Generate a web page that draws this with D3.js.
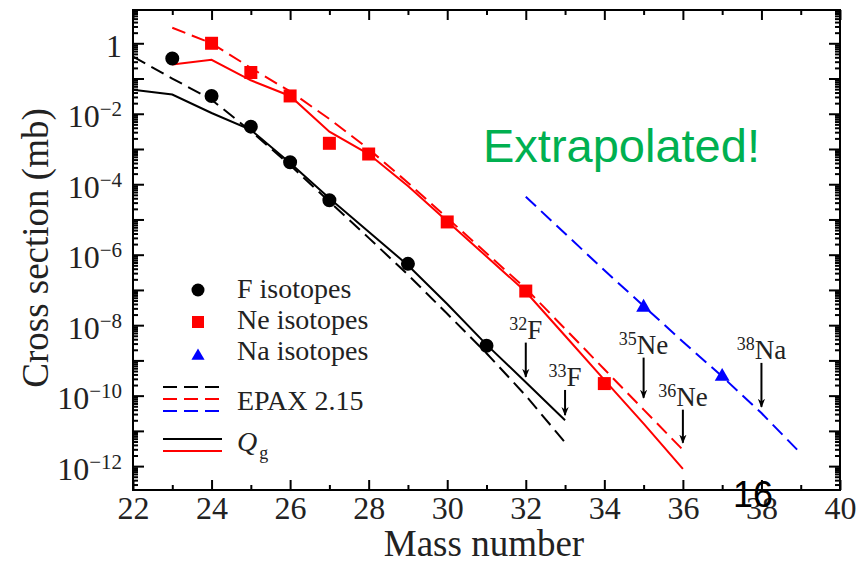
<!DOCTYPE html>
<html lang="en">
<head>
	<meta charset="utf-8">
	<title>Cross sections</title>
	<style type="text/css">
		body { margin: 0; background: #fff; }
		svg text { font-family: "Liberation Serif", "Times New Roman", serif; fill: #222; }
	</style>
</head>
<body>
	<div id="content"></div>

	<script src="https://cdnjs.cloudflare.com/ajax/libs/d3/7.8.5/d3.min.js"></script>
	<script type="text/javascript">
		// measured F / Ne / Na isotopes (mb)
		var massF = [23, 24, 25, 26, 27, 29, 31];
		var sigmaF = [0.37, 0.032, 4.3e-3, 4.2e-4, 3.5e-5, 5.5e-7, 2.6e-9];
		var massNe = [24, 25, 26, 27, 28, 30, 32, 34];
		var sigmaNe = [1.0, 0.148, 0.032, 1.45e-3, 7.2e-4, 8.5e-6, 9.3e-8, 2.2e-10];
		var massNa = [35, 37];
		var sigmaNa = [3.2e-8, 3.5e-10];

		// EPAX 2.15 (dashed)
		var epaxMassF = [22, 23, 24, 25, 26, 27, 28, 29, 30, 31, 32, 33];
		var epaxF = [0.42, 0.10, 0.025, 3.2e-3, 3.5e-4, 3.2e-5, 3.0e-6, 2.7e-7, 2.1e-8, 1.6e-9, 1.0e-10, 4.7e-12];
		var epaxMassNe = [23, 24, 25, 26, 27, 28, 29, 30, 31, 32, 33, 34, 35, 36];
		var epaxNe = [2.75, 1.0, 0.20, 0.043, 7.1e-3, 1.0e-3, 1.1e-4, 1.1e-5, 1.1e-6, 1.1e-7, 7.9e-9, 5.6e-10, 4.0e-11, 2.9e-12];
		var epaxMassNa = [32, 33, 34, 35, 36, 37, 38, 39];
		var epaxNa = [4.4e-5, 4.0e-6, 3.6e-7, 3.5e-8, 3.4e-9, 3.5e-10, 3.2e-11, 2.3e-12];

		// Qg systematics (solid)
		var qgMassF = [22, 23, 24, 25, 26, 27, 28, 29, 30, 31, 32, 33];
		var qgF = [0.048, 0.035, 0.0105, 3.5e-3, 4.0e-4, 4.0e-5, 4.5e-6, 5.0e-7, 4.0e-8, 2.8e-9, 2.4e-10, 2.0e-11];
		var qgMassNe = [23, 24, 25, 26, 27, 28, 29, 30, 31, 32, 33, 34, 35, 36];
		var qgNe = [0.25, 0.34, 0.089, 0.032, 3.1e-3, 7.2e-4, 8.9e-5, 8.9e-6, 8.9e-7, 8.9e-8, 5.0e-9, 2.8e-10, 1.6e-11, 8.3e-13];

		// arrows for unobserved isotopes
		var arrowNum = ["32", "33", "35", "36", "38"];
		var arrowEl = ["F", "F", "Ne", "Ne", "Na"];
		var arrowMass = [32, 33, 35, 36, 38];
		var arrowTop = [3.2e-9, 1.45e-10, 1.2e-9, 4.0e-11, 8.5e-10];
		var arrowTip = [3.4e-10, 2.8e-11, 8.7e-11, 4.6e-12, 4.8e-11];

		var xTicks = [22, 24, 26, 28, 30, 32, 34, 36, 38, 40];
		var yLabelExp = [0, -2, -4, -6, -8, -10, -12];

		var w = 859, h = 564;
		var mLeft = 133, mRight = 840, mTop = 10, mBottom = 490;

		var svg = d3.select("#content").append("svg")
			.attr("width", w)
			.attr("height", h);

		var x = d3.scaleLinear().domain([22, 40]).range([mLeft, mRight]);
		var y = d3.scaleLog().domain([2.1e-13, 8.8]).range([mBottom, mTop]);

		var RED = "#ff0000", BLUE = "#0000ff", BLACK = "#000";

		// tick values
		var majorY = [], minorY = [];
		for (var e = -13; e <= 0; e++) {
			var base = Math.pow(10, e);
			if (base >= y.domain()[0]) majorY.push(base);
			for (var m = 2; m <= 9; m++) {
				var v = m * base;
				if (v >= y.domain()[0] && v <= y.domain()[1]) minorY.push(v);
			}
		}
		var minorX = d3.range(23, 40, 2);

		function styleAxis(g) {
			g.select(".domain").remove();
			g.selectAll(".tick line").attr("stroke", BLACK).attr("stroke-width", 2);
		}

		// bottom axis
		svg.append("g")
			.attr("transform", "translate(0," + mBottom + ")")
			.call(d3.axisBottom(x).tickValues(xTicks).tickSize(-10).tickPadding(6).tickFormat(d3.format("d")))
			.call(styleAxis)
			.selectAll("text")
			.style("font-size", "32px")
			.style("font-family", "Liberation Serif")
			.attr("fill", "#222");
		svg.append("g")
			.attr("transform", "translate(0," + mBottom + ")")
			.call(d3.axisBottom(x).tickValues(minorX).tickSize(-5).tickFormat(""))
			.call(styleAxis);

		// top axis
		svg.append("g")
			.attr("transform", "translate(0," + mTop + ")")
			.call(d3.axisTop(x).tickValues(xTicks).tickSize(-10).tickFormat(""))
			.call(styleAxis);
		svg.append("g")
			.attr("transform", "translate(0," + mTop + ")")
			.call(d3.axisTop(x).tickValues(minorX).tickSize(-5).tickFormat(""))
			.call(styleAxis);

		// left axis
		var leftMajor = svg.append("g")
			.attr("transform", "translate(" + mLeft + ",0)")
			.call(d3.axisLeft(y).tickValues(majorY).tickSize(-11).tickPadding(11).tickFormat(function (d) {
				var ex = Math.round(Math.log10(d));
				return yLabelExp.indexOf(ex) >= 0 ? String(ex) : "";
			}))
			.call(styleAxis);
		leftMajor.selectAll(".tick text").each(function () {
			var t = d3.select(this);
			var ex = t.text();
			t.text(null)
				.attr("dy", null)
				.attr("y", 13)
				.attr("fill", "#222")
				.style("font-family", "Liberation Serif");
			if (ex === "") return;
			if (ex === "0") {
				t.append("tspan").style("font-size", "32px").text("1");
			} else {
				t.append("tspan").style("font-size", "32px").text("10");
				t.append("tspan").style("font-size", "21px").attr("dy", -11).text("\u2212" + ex.replace("-", ""));
			}
		});
		svg.append("g")
			.attr("transform", "translate(" + mLeft + ",0)")
			.call(d3.axisLeft(y).tickValues(minorY).tickSize(-5).tickFormat(""))
			.call(styleAxis);

		// right axis
		svg.append("g")
			.attr("transform", "translate(" + mRight + ",0)")
			.call(d3.axisRight(y).tickValues(majorY).tickSize(-11).tickFormat(""))
			.call(styleAxis);
		svg.append("g")
			.attr("transform", "translate(" + mRight + ",0)")
			.call(d3.axisRight(y).tickValues(minorY).tickSize(-5).tickFormat(""))
			.call(styleAxis);

		// frame
		svg.append("rect")
			.attr("x", mLeft).attr("y", mTop)
			.attr("width", mRight - mLeft).attr("height", mBottom - mTop)
			.attr("fill", "none").attr("stroke", BLACK).attr("stroke-width", 2);

		// lines
		var line = d3.line().x(function (d) { return x(d[0]); }).y(function (d) { return y(d[1]); });
		function drawLine(ms, vs, color, dashed) {
			svg.append("path")
				.datum(d3.zip(ms, vs))
				.attr("d", line)
				.attr("fill", "none")
				.attr("stroke", color)
				.attr("stroke-width", 2)
				.attr("stroke-dasharray", dashed ? "14,7" : null);
		}
		drawLine(qgMassF, qgF, BLACK, false);
		drawLine(epaxMassF, epaxF, BLACK, true);
		drawLine(qgMassNe, qgNe, RED, false);
		drawLine(epaxMassNe, epaxNe, RED, true);
		drawLine(epaxMassNa, epaxNa, BLUE, true);

		// markers
		function drawMarkers(ms, vs, type, size, color) {
			svg.append("g").selectAll("path")
				.data(d3.zip(ms, vs))
				.enter().append("path")
				.attr("transform", function (d) { return "translate(" + x(d[0]) + "," + y(d[1]) + ")"; })
				.attr("d", d3.symbol().type(type).size(size))
				.attr("fill", color);
		}
		drawMarkers(massF, sigmaF, d3.symbolCircle, 154, BLACK);
		drawMarkers(massNe, sigmaNe, d3.symbolSquare, 169, RED);
		drawMarkers(massNa, sigmaNa, d3.symbolTriangle, 95, BLUE);

		// arrows + labels
		var defs = svg.append("defs");
		defs.append("marker")
			.attr("id", "head")
			.attr("viewBox", "0 0 10 10")
			.attr("refX", 9).attr("refY", 5)
			.attr("markerWidth", 9).attr("markerHeight", 9)
			.attr("markerUnits", "userSpaceOnUse")
			.attr("orient", "auto")
			.append("path")
			.attr("d", "M0,1 L10,5 L0,9 L3,5 Z")
			.attr("fill", BLACK);

		arrowMass.forEach(function (ms, i) {
			var ax = x(ms);
			svg.append("line")
				.attr("x1", ax).attr("x2", ax)
				.attr("y1", y(arrowTop[i])).attr("y2", y(arrowTip[i]))
				.attr("stroke", BLACK).attr("stroke-width", 2)
				.attr("marker-end", "url(#head)");
			var t = svg.append("text")
				.attr("x", ax)
				.attr("y", y(arrowTop[i]) - 4)
				.attr("text-anchor", "middle");
			t.append("tspan").style("font-size", "18px").attr("dy", -9).text(arrowNum[i]);
			t.append("tspan").style("font-size", "27px").attr("dy", 9).text(arrowEl[i]);
		});

		// legend
		var lg = svg.append("g");
		var legSymX = 198, legTextX = 237;
		lg.append("path").attr("transform", "translate(" + legSymX + ",290)")
			.attr("d", d3.symbol().type(d3.symbolCircle).size(133)).attr("fill", BLACK);
		lg.append("path").attr("transform", "translate(" + legSymX + ",322)")
			.attr("d", d3.symbol().type(d3.symbolSquare).size(144)).attr("fill", RED);
		lg.append("path").attr("transform", "translate(" + legSymX + ",356)")
			.attr("d", d3.symbol().type(d3.symbolTriangle).size(75)).attr("fill", BLUE);
		[["F isotopes", 298], ["Ne isotopes", 329], ["Na isotopes", 360], ["EPAX 2.15", 410]].forEach(function (r) {
			lg.append("text").attr("x", legTextX).attr("y", r[1]).style("font-size", "28px").text(r[0]);
		});
		[[387, BLACK, true], [399, RED, true], [411, BLUE, true], [439, BLACK, false], [451, RED, false]].forEach(function (r) {
			lg.append("line")
				.attr("x1", 163).attr("x2", 222)
				.attr("y1", r[0]).attr("y2", r[0])
				.attr("stroke", r[1]).attr("stroke-width", 2)
				.attr("stroke-dasharray", r[2] ? "14,7" : null);
		});
		var qt = lg.append("text").attr("x", legTextX).attr("y", 451);
		qt.append("tspan").style("font-size", "28px").style("font-style", "italic").text("Q");
		qt.append("tspan").style("font-size", "18px").attr("dy", 8).attr("dx", 2).text("g");

		// axis titles
		svg.append("text")
			.attr("x", 484).attr("y", 556)
			.attr("text-anchor", "middle")
			.style("font-size", "37px")
			.text("Mass number");
		svg.append("text")
			.attr("transform", "translate(48,248) rotate(-90)")
			.attr("text-anchor", "middle")
			.style("font-size", "37px")
			.text("Cross section (mb)");

		// slide overlays
		svg.append("text")
			.attr("x", 483).attr("y", 162)
			.style("font-family", "Liberation Sans")
			.style("font-size", "47px")
			.style("fill", "#00b050")
			.text("Extrapolated!");
		svg.append("text")
			.attr("x", 733).attr("y", 507)
			.style("font-family", "Liberation Sans")
			.style("font-size", "36px")
			.style("fill", "#000")
			.text("16");
	</script>
</body>
</html>
